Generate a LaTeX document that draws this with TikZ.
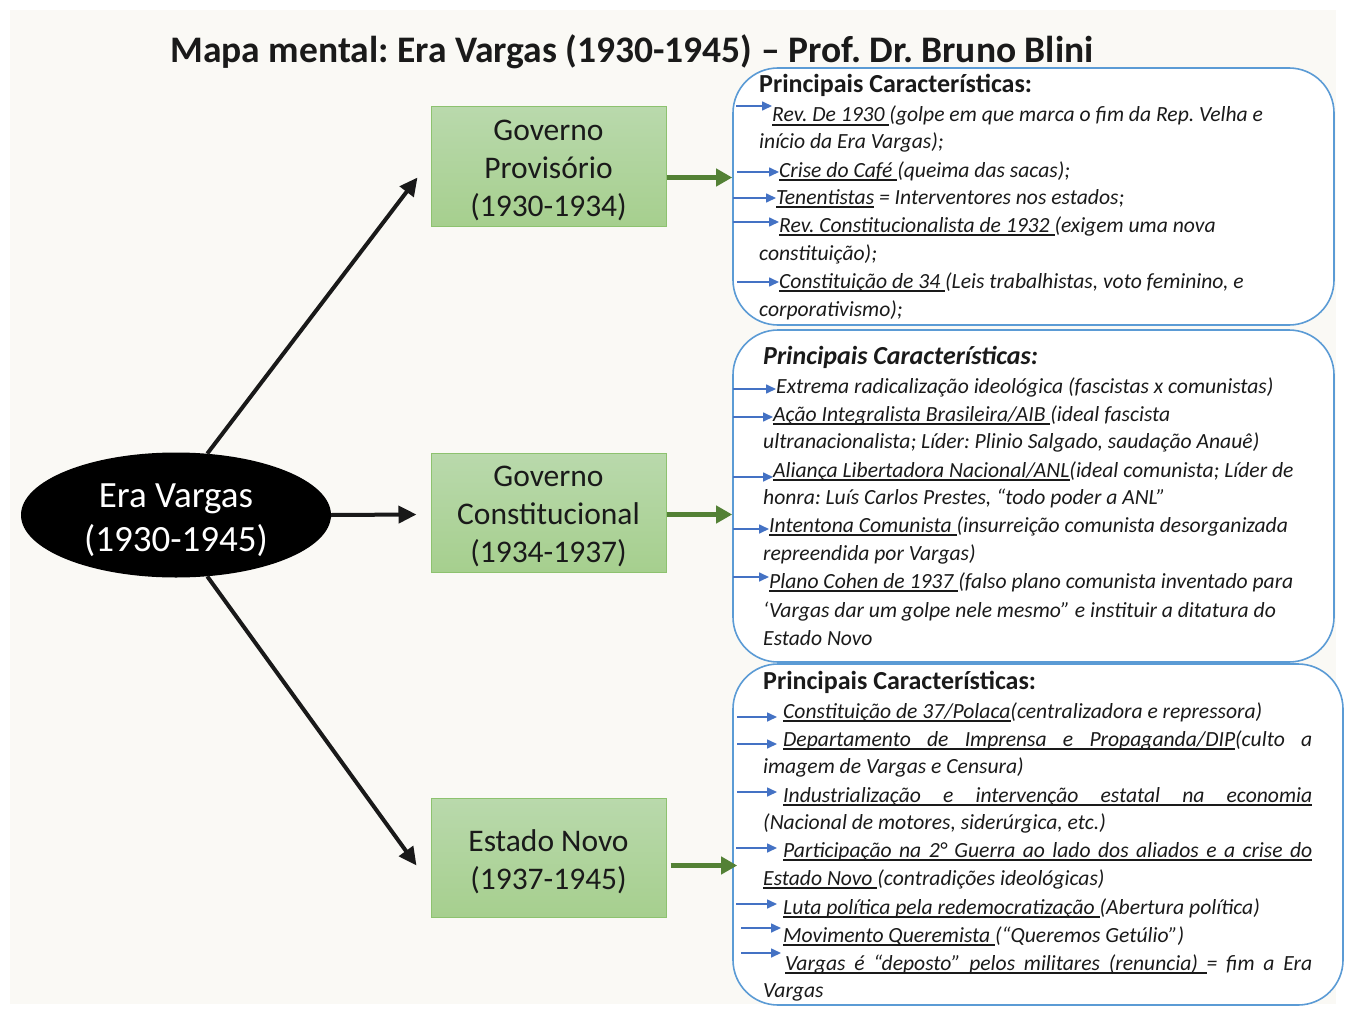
\documentclass[tikz,border=0pt]{standalone}
\usepackage{fontspec}
\setmainfont{Carlito}
\usetikzlibrary{shapes.geometric,arrows.meta}
\frenchspacing

% underlined word, underlined stretchable space, plain stretchable space
\newcommand{\uw}[1]{\setbox0=\hbox{#1}\rlap{\rule[-3.6pt]{\wd0}{1.3pt}}\box0\relax}
\newcommand{\us}{\leaders\hrule height -2.3pt depth 3.6pt\hskip 0.23em plus 1em\relax}
\newcommand{\ps}{\hskip 0.23em plus 1em\relax}

\definecolor{bg}{HTML}{FAF9F5}
\definecolor{boxblue}{HTML}{5B9BD5}
\definecolor{arrowblue}{HTML}{4472C4}
\definecolor{darkgreen}{HTML}{538135}
\definecolor{greentop}{HTML}{B9D9AC}
\definecolor{greenbot}{HTML}{A6CF8E}
\definecolor{greenedge}{HTML}{8DC26F}
\definecolor{txt}{HTML}{1A1A1A}

\tikzset{
  branch/.style={rectangle, draw=greenedge, line width=1pt,
    top color=greentop, bottom color=greenbot,
    minimum width=235pt, minimum height=119pt},
  branchtext/.style={align=center, inner sep=0pt, text=txt,
    font=\fontsize{31.5}{38}\selectfont},
  panel/.style={rectangle, draw=boxblue, line width=1.6pt, fill=white,
    rounded corners=45pt},
  ln/.style={anchor=base west, inner sep=0pt, text=txt,
    font=\itshape\fontsize{21.6}{28}\selectfont},
  head/.style={anchor=base west, inner sep=0pt, text=txt,
    font=\bfseries\fontsize{26}{28}\selectfont},
  bigarrow/.style={line width=4pt, draw=black!90,
    -{Triangle[length=18pt,width=17pt]}},
  greenarrow/.style={line width=5pt, draw=darkgreen,
    -{Triangle[length=16pt,width=17pt]}},
  tip/.style={line width=1.6pt, draw=arrowblue,
    -{Triangle[length=10pt,width=9pt]}, fill=arrowblue},
}

\begin{document}
\begin{tikzpicture}[x=1pt,y=-1pt]
\useasboundingbox (0,0) rectangle (1346,1014);
\fill[white] (0,0) rectangle (1346,1014);
\fill[bg] (10,10) rectangle (1336,1004);

% title
\node[anchor=base, inner sep=0pt, text=txt,
  font=\bfseries\fontsize{37.5}{40}\selectfont] (title) at (632,63)
  {Mapa mental: Era Vargas (1930-1945) – Prof. Dr. Bruno Blini};

% central ellipse and the three periods
\node[ellipse, fill=black, minimum width=310pt, minimum height=125pt] (ev) at (176,515) {};
\node[align=center, inner sep=0pt, text=white,
  font=\fontsize{37}{44}\selectfont] (evt) at (176,520) {Era Vargas\\(1930-1945)};

\node[branch] (g1) at (548.5,166.5) {};
\node[branchtext] (g1t) at (548.5,170.5) {Governo\\Provisório\\(1930-1934)};
\node[branch] (g2) at (548.5,512.5) {};
\node[branchtext] (g2t) at (548.5,516.5) {Governo\\Constitucional\\(1934-1937)};
\node[branch] (g3) at (548.5,857.5) {};
\node[branchtext] (g3t) at (548.5,861.5) {Estado Novo\\(1937-1945)};

\draw[bigarrow] (ev.63) -- ([xshift=-13pt,yshift=-11pt]g1.west);
\draw[bigarrow] (ev.east) -- ([xshift=-14pt,yshift=-2pt]g2.west);
\draw[bigarrow] (ev.-63) -- ([xshift=-14pt,yshift=-8pt]g3.west);

% panels
\node[panel, minimum width=601pt, minimum height=257pt] (pA) at (1033.5,196.5) {};
\node[panel, minimum width=601pt, minimum height=332pt] (pB) at (1033.5,496) {};
\node[panel, minimum width=610pt, minimum height=341pt] (pC) at (1038,834.5) {};

\draw[greenarrow] ([yshift=-11pt]g1.east) -- ([yshift=-11pt]g1.east -| pA.west);
\draw[greenarrow] ([yshift=-2pt]g2.east) -- ([yshift=-2pt]g2.east -| pB.west);
\draw[greenarrow] ([xshift=4pt,yshift=-8pt]g3.east) -- ([xshift=5pt,yshift=-8pt]g3.east -| pC.west);

% panel A: Governo Provisório
\node[head] (hA) at (759,93) {Principais Características:};
\node[ln] (a1) at (772,122) {\uw{Rev. De 1930 }(golpe em que marca o fim da Rep. Velha e};
\node[ln] (a2) at (759,148) {início da Era Vargas);};
\node[ln] (a3) at (779,177) {\uw{Crise do Café }(queima das sacas);};
\node[ln] (a4) at (776,204) {\uw{Tenentistas} = Interventores nos estados;};
\node[ln] (a5) at (779,232) {\uw{Rev. Constitucionalista de 1932 }(exigem uma nova};
\node[ln] (a6) at (759,260) {constituição);};
\node[ln] (a7) at (779,288) {\uw{Constituição de 34 }(Leis trabalhistas, voto feminino, e};
\node[ln] (a8) at (759,316) {corporativismo);};

\coordinate (sa1) at (736,106);
\coordinate (sa3) at (737,172);
\coordinate (sa4) at (733,198);
\coordinate (sa5) at (733,222);
\coordinate (sa7) at (737,282);
\draw[tip] (sa1) -- (sa1 -| a1.west);
\draw[tip] (sa3) -- (sa3 -| a3.west);
\draw[tip] (sa4) -- (sa4 -| a4.west);
\draw[tip] (sa5) -- (sa5 -| a5.west);
\draw[tip] (sa7) -- (sa7 -| a7.west);

% panel B: Governo Constitucional
\node[head, font=\bfseries\itshape\fontsize{26}{28}\selectfont] (hB) at (763,364) {Principais Características:};
\node[ln] (b1) at (776,393) {Extrema radicalização ideológica (fascistas x comunistas)};
\node[ln] (b2) at (773,421) {\uw{Ação Integralista Brasileira/AIB }(ideal fascista};
\node[ln] (b3) at (763,448) {ultranacionalista; Líder: Plinio Salgado, saudação Anauê)};
\node[ln] (b4) at (773,477) {\uw{Aliança Libertadora Nacional/ANL}(ideal comunista; Líder de};
\node[ln] (b5) at (763,504) {honra: Luís Carlos Prestes, “todo poder a ANL”};
\node[ln] (b6) at (769,532) {\uw{Intentona Comunista }(insurreição comunista desorganizada};
\node[ln] (b7) at (763,560) {repreendida por Vargas)};
\node[ln] (b8) at (769,588) {\uw{Plano Cohen de 1937 }(falso plano comunista inventado para};
\node[ln] (b9) at (763,617) {‘Vargas dar um golpe nele mesmo” e instituir a ditatura do};
\node[ln] (b10) at (763,645) {Estado Novo};

\coordinate (sb1) at (733,389);
\coordinate (sb2) at (733,417);
\coordinate (sb4) at (733,477);
\coordinate (sb6) at (733,529);
\coordinate (sb8) at (733,577);
\draw[tip] (sb1) -- (sb1 -| b1.west);
\draw[tip] (sb2) -- (sb2 -| b2.west);
\draw[tip] (sb4) -- (sb4 -| b4.west);
\draw[tip] (sb6) -- (sb6 -| b6.west);
\draw[tip] (sb8) -- (sb8 -| b8.west);

% panel C: Estado Novo (justified lines are stretched to the right margin)
\node[head] (hC) at (763,689) {Principais Características:};
\node[ln] (c1) at (783,718) {\uw{Constituição de 37/Polaca}(centralizadora e repressora)};
\node[ln] (c2) at (783,746) {\makebox[529pt][s]{\uw{Departamento}\us\uw{de}\us\uw{Imprensa}\us\uw{e}\us\uw{Propaganda/DIP}(culto\ps a}};
\node[ln] (c3) at (763,773) {imagem de Vargas e Censura)};
\node[ln] (c4) at (783,802) {\makebox[529pt][s]{\uw{Industrialização}\us\uw{e}\us\uw{intervenção}\us\uw{estatal}\us\uw{na}\us\uw{economia}}};
\node[ln] (c5) at (763,829) {(Nacional de motores, siderúrgica, etc.)};
\node[ln] (c6) at (783,857) {\makebox[529pt][s]{\uw{Participação}\us\uw{na}\us\uw{2°}\us\uw{Guerra}\us\uw{ao}\us\uw{lado}\us\uw{dos}\us\uw{aliados}\us\uw{e}\us\uw{a}\us\uw{crise}\us\uw{do}}};
\node[ln] (c7) at (763,885) {\uw{Estado Novo }(contradições ideológicas)};
\node[ln] (c8) at (783,914) {\uw{Luta política pela redemocratização }(Abertura política)};
\node[ln] (c9) at (783,942) {\uw{Movimento Queremista }(“Queremos Getúlio”)};
\node[ln] (c10) at (785,970) {\makebox[527pt][s]{\uw{Vargas}\us\uw{é}\us\uw{“deposto”}\us\uw{pelos}\us\uw{militares}\us\uw{(renuncia)}\us=\ps fim\ps a\ps Era}};
\node[ln] (c11) at (763,997) {Vargas};

\coordinate (sc1) at (737,717);
\coordinate (sc2) at (737,744);
\coordinate (sc4) at (737,792);
\coordinate (sc6) at (736,848);
\coordinate (sc8) at (736,904);
\coordinate (sc9) at (741,928);
\coordinate (sc10) at (741,953);
\draw[tip] (sc1) -- ([xshift=-6pt]sc1 -| c1.west);
\draw[tip] (sc2) -- ([xshift=-6pt]sc2 -| c2.west);
\draw[tip] (sc4) -- ([xshift=-6pt]sc4 -| c4.west);
\draw[tip] (sc6) -- ([xshift=-6pt]sc6 -| c6.west);
\draw[tip] (sc8) -- ([xshift=-6pt]sc8 -| c8.west);
\draw[tip] (sc9) -- ([xshift=-2pt]sc9 -| c9.west);
\draw[tip] (sc10) -- ([xshift=-4pt]sc10 -| c10.west);
\end{tikzpicture}
\end{document}
